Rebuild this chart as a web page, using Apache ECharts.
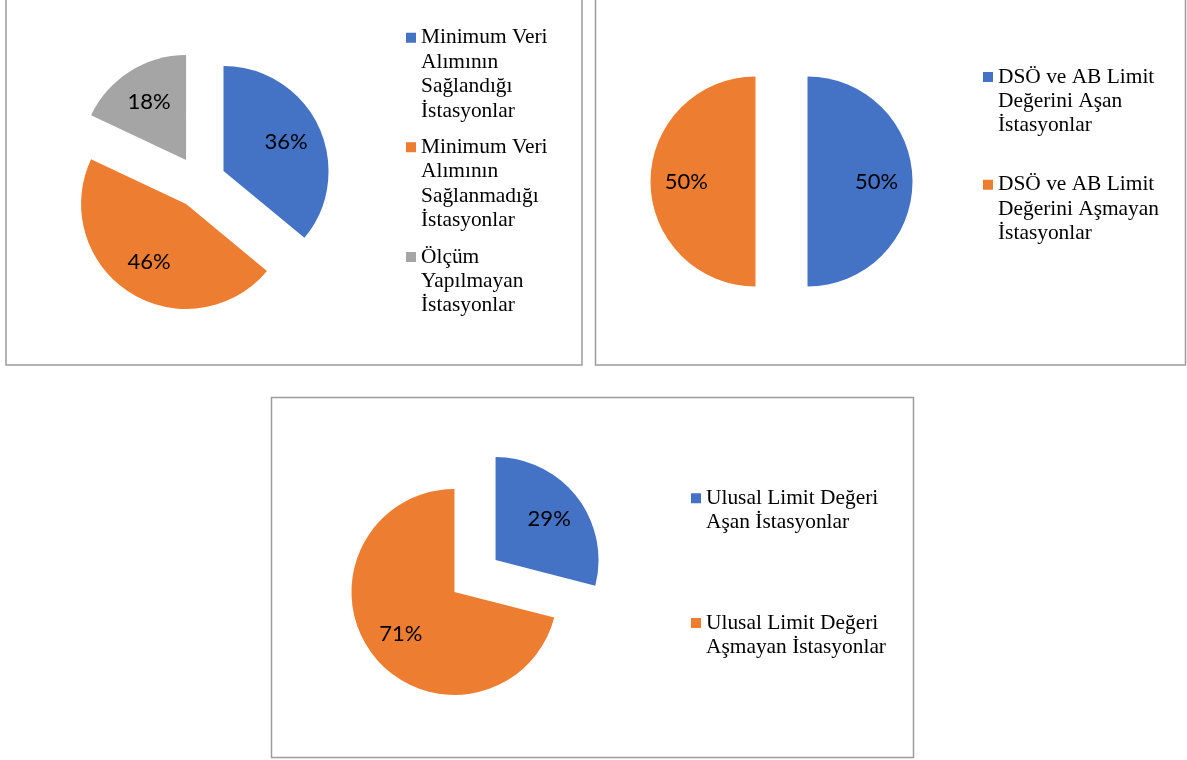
<!DOCTYPE html>
<html>
<head>
<meta charset="utf-8">
<script src="https://cdn.jsdelivr.net/npm/echarts@6/dist/echarts.min.js"></script>
<style>
  html, body { margin: 0; padding: 0; background: #fff; }
  #chart { width: 1187px; height: 760px; }
</style>
</head>
<body>
<div id="chart"></div>
<script>
const colors = ['#4472C4', '#ED7D31', '#A5A5A5'];

const chart1Names = [
  'Minimum Veri\nAlımının\nSağlandığı\nİstasyonlar',
  'Minimum Veri\nAlımının\nSağlanmadığı\nİstasyonlar',
  'Ölçüm\nYapılmayan\nİstasyonlar'
];
const chart1Values = [36, 46, 18];

const chart2Names = [
  'DSÖ ve AB Limit\nDeğerini Aşan\nİstasyonlar',
  'DSÖ ve AB Limit\nDeğerini Aşmayan\nİstasyonlar'
];
const chart2Values = [50, 50];

const chart3Names = [
  'Ulusal Limit Değeri\nAşan İstasyonlar',
  'Ulusal Limit Değeri\nAşmayan İstasyonlar'
];
const chart3Values = [29, 71];

const LH = 24.4;      // legend line height
const MARK = 10;      // legend square size
const OFFSET = 26;    // exploded slice offset

function toData(names, values) {
  return names.map((name, i) => ({
    name,
    value: values[i],
    selected: true,
    itemStyle: { color: colors[i] }
  }));
}

// two series per pie: the coloured slices, and a transparent ring on top
// that only carries the labels (puts them ~2/3 of the way out, like Excel)
function pieSeries(names, values, center, r) {
  const base = {
    type: 'pie',
    center,
    startAngle: 90,
    clockwise: true,
    selectedMode: 'multiple',
    selectedOffset: OFFSET,
    emphasis: { disabled: true },
    labelLine: { show: false },
    silent: true
  };
  return [
    {
      ...base,
      radius: [0, r],
      itemStyle: { borderWidth: 0 },
      label: { show: false },
      data: toData(names, values)
    },
    {
      ...base,
      radius: [r * 0.26, r],
      itemStyle: { color: 'rgba(0,0,0,0)', borderWidth: 0 },
      label: {
        show: true,
        position: 'inside',
        formatter: '{c}%',
        color: '#000',
        fontFamily: 'Lato',
        fontSize: 22
      },
      data: names.map((name, i) => ({
        name, value: values[i], selected: true,
        itemStyle: { color: 'rgba(0,0,0,0)' }
      }))
    }
  ];
}

// legend square sits on the first text line, not the middle of the block
function legendFor(names, left, top, gap) {
  const nMax = Math.max(...names.map(n => n.split('\n').length));
  const h = nMax * LH;
  const y0 = LH / 2 - MARK / 2;
  const icon = 'path://M0,0L0.001,0 M0,' + y0 + 'h' + MARK + 'v' + MARK + 'h-' + MARK + 'z M0,' + h + 'L0.001,' + h;
  return {
    data: names,
    orient: 'vertical',
    left,
    top,
    padding: 0,
    itemGap: gap,
    itemWidth: MARK,
    itemHeight: h,
    icon,
    selectedMode: false,
    itemStyle: { borderWidth: 0 },
    formatter: name => {
      const n = name.split('\n').length;
      return name + '\n '.repeat(nMax - n);
    },
    textStyle: {
      fontFamily: 'Liberation Serif',
      fontSize: 21.4,
      lineHeight: LH,
      color: '#000'
    }
  };
}

function frame(x, y, w, h) {
  return {
    type: 'rect',
    shape: { x, y, width: w, height: h },
    style: { fill: 'none', stroke: '#9c9c9c', lineWidth: 1.5 },
    silent: true
  };
}

const chart = echarts.init(document.getElementById('chart'));
chart.setOption({
  animation: false,
  graphic: [
    frame(6, -5, 576, 370),
    frame(595.5, -5, 590, 370),
    frame(271.5, 397.5, 642, 360)
  ],
  legend: [
    legendFor(chart1Names, 406, 25.5, 12),
    legendFor(chart2Names, 983, 64.8, 34.5),
    legendFor(chart3Names, 691, 486, 76)
  ],
  series: [
    ...pieSeries(chart1Names, chart1Values, [200, 182], 105),
    ...pieSeries(chart2Names, chart2Values, [781.5, 181.5], 105),
    ...pieSeries(chart3Names, chart3Values, [475, 576], 103)
  ]
});
</script>
</body>
</html>
